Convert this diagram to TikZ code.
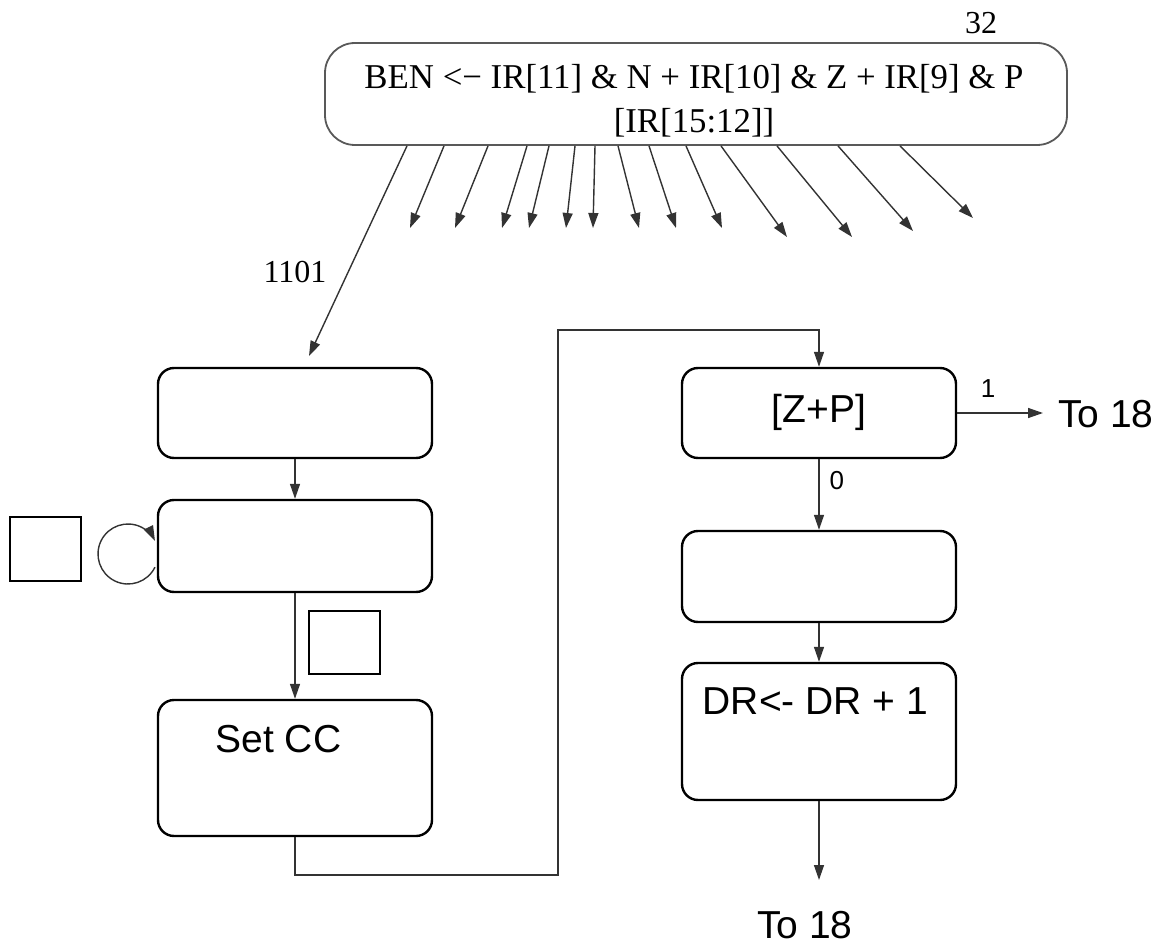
\documentclass[tikz,border=0pt]{standalone}
\usepackage{fontspec}
\setmainfont{Liberation Serif}
\newfontfamily\arial{Liberation Sans}
\usetikzlibrary{arrows.meta}
\begin{document}
\begin{tikzpicture}[x=1pt,y=-1pt,
  arr/.style={line width=1.4pt, draw=black!80, -{Triangle[length=15pt,width=10pt]}},
  box/.style={draw=black, line width=2.4pt, rounded corners=16pt, minimum width=274pt, inner sep=0pt},
  sq/.style={draw=black, line width=2.4pt},
  sans/.style={font=\arial\fontsize{39}{44}\selectfont, inner sep=0pt},
  small/.style={font=\arial\fontsize{26}{30}\selectfont, inner sep=0pt},
  serif/.style={font=\fontsize{34.8}{44}\selectfont, inner sep=0pt, align=center},
  num/.style={font=\fontsize{32}{36}\selectfont, inner sep=0pt}]
\useasboundingbox (0,0) rectangle (1168,947);

% top box
\node[draw=black!65, line width=1.8pt, rounded corners=30pt, minimum width=742pt, minimum height=102pt] (top) at (696,94) {};
\node[serif] (toptext) at (694,101) {BEN <− IR[11] \& N + IR[10] \& Z + IR[9] \& P\\\relax{[IR[15:12]]}\hspace{22pt}};
\node[num] (n32) at (981,23) {32};

% fan of arrows
\foreach \sx/\ex/\ey [count=\i] in {444/410/228, 488/455/228, 527/502/228, 549/529/228, 575/566/228, 595/593/228, 618/639/228, 649/676/228, 686/722/228, 721/787/237, 777/852/237, 838/913/231, 900/973/218}{
  \coordinate (t\i) at (\ex,\ey);
  \draw[arr] (top.south -| \sx,0) -- (t\i);
}
\coordinate (e1101) at (309,356);
\draw[arr] (top.south -| 407,0) -- (e1101);
\node[num] (l1101) at (295,272) {1101};

% left column
\node[box, minimum height=90pt] (b1) at (295,413) {};
\node[box, minimum height=92pt] (b2) at (295,546) {};
\node[box, minimum height=136pt] (b3) at (295,768) {};
\node[sans] (setcc) at (278.5,739) {Set CC};
\node[sq, minimum width=71pt, minimum height=64pt, inner sep=0pt] (sq1) at (45.5,549) {};
\node[sq, minimum width=71pt, minimum height=63pt, inner sep=0pt] (sq2) at (344.5,642.5) {};

\draw[arr] (b1.south) -- (b2.north);
\draw[arr] (b2.south) -- (b3.north);
\coordinate (lc) at (128,554);
\draw[arr] (lc) ++(-26:30pt) arc[start angle=-26, end angle=-334, radius=30pt];

% right column
\node[box, minimum height=90pt] (b4) at (819,413) {};
\node[sans] (zp) at (819,412) {[Z+P]};
\node[box, minimum height=91pt] (b5) at (819,576.5) {};
\node[box, minimum height=137pt] (b6) at (819,731.5) {};
\node[sans] (dr) at (815.5,701) {DR<- DR + 1};

% connector to right column
\coordinate (c1) at (558,875);
\draw[arr] (b3.south) |- (c1) -- (558,330) -| (b4.north);

\draw[arr] (b4.south) -- node[small, pos=0.3, right=10pt] (l0) {0} (b5.north);
\draw[arr] (b5.south) -- (b6.north);
\coordinate (to1) at (1043,413);
\draw[arr] (b4.east) -- (to1);
\node[small] (l1) at (988,389) {1};
\node[sans, anchor=west] (to18a) at (1058,414) {To 18};
\coordinate (to2) at (819,880);
\draw[arr] (b6.south) -- (to2);
\node[sans] (to18b) at (805,925) {To 18};
\end{tikzpicture}
\end{document}
